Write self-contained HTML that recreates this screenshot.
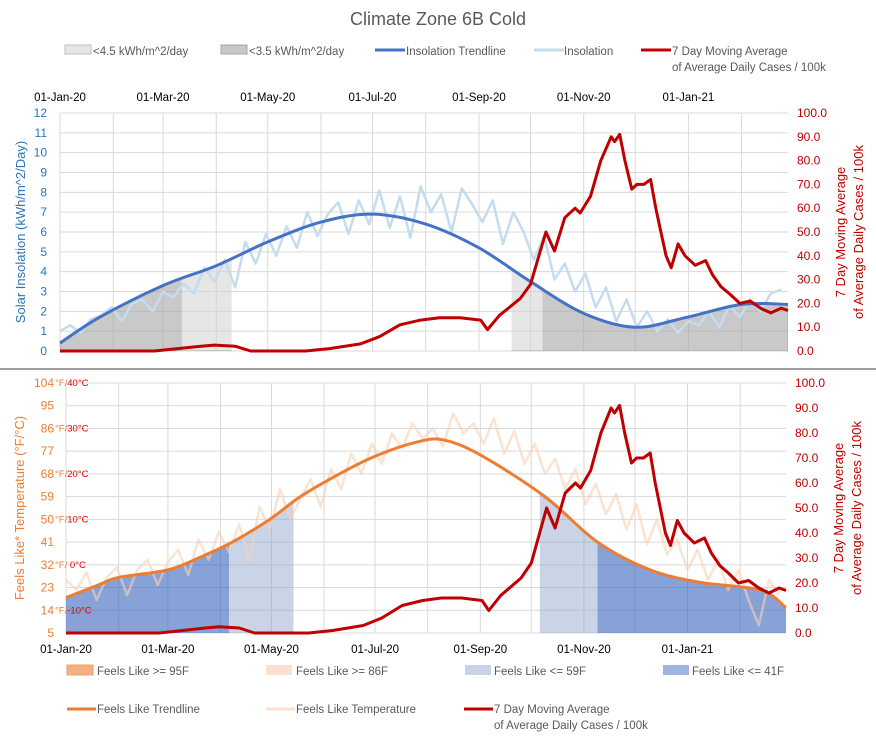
<!DOCTYPE html>
<html><head><meta charset="utf-8"><style>
body{margin:0;background:#fff;font-family:"Liberation Sans",sans-serif}
svg text{font-family:"Liberation Sans",sans-serif}
</style></head><body>
<svg id="c" width="876" height="735" viewBox="0 0 876 735" xmlns="http://www.w3.org/2000/svg">
<text x="438" y="25" text-anchor="middle" font-size="18" fill="#595959">Climate Zone 6B Cold</text>
<line x1="0" y1="369" x2="876" y2="369" stroke="#404040" stroke-width="1"/>
<g id="topPanel"></g>
<g id="botPanel"></g>
<g font-size="11.5" fill="#595959">
 <rect x="65" y="45" width="26" height="9" fill="#e6e6e6" stroke="#bfbfbf"/>
 <text x="93" y="55">&lt;4.5 kWh/m^2/day</text>
 <rect x="221" y="45" width="26" height="9" fill="#c8c8c8" stroke="#a6a6a6"/>
 <text x="249" y="55">&lt;3.5 kWh/m^2/day</text>
 <line x1="375" y1="50" x2="405" y2="50" stroke="#4472c4" stroke-width="3"/>
 <text x="406" y="55">Insolation Trendline</text>
 <line x1="534" y1="50" x2="564" y2="50" stroke="#c5dcef" stroke-width="3"/>
 <text x="564" y="55">Insolation</text>
 <line x1="641" y1="50" x2="671" y2="50" stroke="#c00000" stroke-width="3"/>
 <text x="672" y="55">7 Day Moving Average</text>
 <text x="672" y="71">of Average Daily Cases / 100k</text>
</g>
<g font-size="11.5" fill="#595959">
 <rect x="67" y="665" width="26" height="10" fill="#f4b183" stroke="#f0a070"/>
 <text x="97" y="675">Feels Like &gt;= 95F</text>
 <rect x="266" y="665" width="26" height="10" fill="#fbe0d0"/>
 <text x="296" y="675">Feels Like &gt;= 86F</text>
 <rect x="465" y="665" width="26" height="10" fill="#c9d3e6"/>
 <text x="494" y="675">Feels Like &lt;= 59F</text>
 <rect x="663" y="665" width="26" height="10" fill="#a0b6e0"/>
 <text x="692" y="675">Feels Like &lt;= 41F</text>
 <line x1="67" y1="709" x2="96" y2="709" stroke="#ed7d31" stroke-width="3"/>
 <text x="97" y="713">Feels Like Trendline</text>
 <line x1="266" y1="709" x2="295" y2="709" stroke="#fbe0d0" stroke-width="3"/>
 <text x="296" y="713">Feels Like Temperature</text>
 <line x1="464" y1="709" x2="493" y2="709" stroke="#c00000" stroke-width="3"/>
 <text x="494" y="713">7 Day Moving Average</text>
 <text x="494" y="729">of Average Daily Cases / 100k</text>
</g>
</svg>
<script>
const NS="http://www.w3.org/2000/svg";
const dateLabels=["01-Jan-20","01-Mar-20","01-May-20","01-Jul-20","01-Sep-20","01-Nov-20","01-Jan-21"];
const dateLabelDays=[0,60,121,182,244,305,366];
const monthDays=[0,31,60,91,121,152,182,213,244,274,305,335,366,397,425];
const insolTicks=[0,1,2,3,4,5,6,7,8,9,10,11,12];
const caseTicks=["0.0","10.0","20.0","30.0","40.0","50.0","60.0","70.0","80.0","90.0","100.0"];
const tempTicks=[5,14,23,32,41,50,59,68,77,86,95,104];
const tempCelsius={104:"40°C",86:"30°C",68:"20°C",50:"10°C",32:" 0°C",14:"-10°C"};
const insolStep=6;
const insolVals=[1.0,1.3,0.9,1.6,1.8,2.2,1.5,2.4,2.6,2.0,3.0,2.7,3.4,2.9,4.2,3.5,4.6,3.2,5.5,4.4,5.9,4.8,6.3,5.2,7.0,5.8,6.9,7.5,5.9,7.6,6.4,8.1,6.2,7.8,5.7,8.3,7.0,7.9,6.0,8.2,7.4,6.5,7.6,5.4,7.0,6.0,4.6,5.8,3.6,4.4,3.0,3.9,2.2,3.2,1.5,2.6,1.2,2.0,1.0,1.6,0.9,1.5,1.3,2.0,1.2,2.3,1.7,2.6,2.0,2.9,3.1];
const insolTrendDays=[0,23,60,91,121,152,182,213,244,274,305,335,365,397,424];
const insolTrendVals=[0.4,1.7,3.3,4.3,5.5,6.5,6.9,6.4,5.2,3.5,1.9,1.2,1.7,2.35,2.35];
const tempStep=6;
const tempVals=[26,22,29,18,27,31,20,30,34,24,33,38,28,42,34,45,37,48,33,55,46,62,50,58,66,55,70,62,76,68,80,72,84,78,88,82,86,79,92,84,88,80,90,76,85,72,80,68,74,62,70,56,64,52,60,46,56,40,50,36,42,30,38,26,34,22,30,18,8,26,20];
const tempTrendDays=[0,19,31,60,79,98,120,138,161,182,206,222,244,282,313,344,374,409,424];
const tempTrendVals=[19,24,27,30,35,41,50,59,68,75,80.5,81.5,75.5,59,41,30,25,22,15];
const caseDays=[0,55,82,90,102,111,143,157,175,186,198,210,221,233,245,249,256,268,274,283,288,294,300,303,309,315,318,321,323,326,329,333,336,340,344,347,350,353,356,358,360,364,370,376,380,385,390,396,402,408,414,420,424];
const caseVals=[0,0,2,2.5,2,0,0,1,3,6,11,13,14,14,13,9,15,22,28,50,42,56,60,58,65,80,85,90,88,91,80,68,70,70,72,60,50,40,35,40,45,40,36,38,32,27,24,20,21,18,16,18,17];
const topBands=[[0,71,"dark"],[71,100,"light"],[263,281,"light"],[281,424,"dark"]];
const botBands=[[0,96,"dark"],[96,134,"light"],[279,313,"light"],[313,424,"dark"]];

function el(tag,attrs,parent){const e=document.createElementNS(NS,tag);for(const k in attrs)e.setAttribute(k,attrs[k]);parent.appendChild(e);return e;}
function smooth(pts){let d="M"+pts[0][0]+","+pts[0][1];for(let i=0;i<pts.length-1;i++){const p0=pts[Math.max(0,i-1)],p1=pts[i],p2=pts[i+1],p3=pts[Math.min(pts.length-1,i+2)];d+=" C"+(p1[0]+(p2[0]-p0[0])/6)+","+(p1[1]+(p2[1]-p0[1])/6)+" "+(p2[0]-(p3[0]-p1[0])/6)+","+(p2[1]-(p3[1]-p1[1])/6)+" "+p2[0]+","+p2[1];}return d;}
function poly(pts){return "M"+pts.map(p=>p[0].toFixed(1)+","+p[1].toFixed(1)).join(" L");}

function panel(g,o){
  const X=d=>o.x0+d*(o.x1-o.x0)/424;
  const YL=v=>o.yb-(v-o.lmin)/(o.lmax-o.lmin)*(o.yb-o.yt);
  const YR=v=>o.yb-v/100*(o.yb-o.yt);
  o.lticks.forEach(t=>{const l=el("line",{x1:o.x0,x2:o.x1,y1:YL(t),y2:YL(t),stroke:"#d9d9d9"},g);});
  monthDays.forEach(d=>{if(d<=424){const l=el("line",{x1:X(d),x2:X(d),y1:o.yt,y2:o.yb,stroke:"#d9d9d9"},g);}});
  const tr=o.trendDays.map((d,i)=>[X(d),YL(o.trendVals[i])]);
  const areaD=smooth(tr)+" L"+X(424)+","+o.yb+" L"+X(0)+","+o.yb+" Z";
  o.bands.forEach((b,i)=>{
    const cp=el("clipPath",{id:o.id+"cp"+i},g);
    el("rect",{x:X(b[0]),y:o.yt,width:X(b[1])-X(b[0]),height:o.yb-o.yt},cp);
    const a=el("path",{d:areaD,fill:b[2]=="dark"?o.dark:o.light,stroke:o.bandStroke,"stroke-width":1,"clip-path":"url(#"+o.id+"cp"+i+")"},g);
    
    
  });
  const np=o.vals.map((v,i)=>[X(i*o.step),YL(v)]);
  const n=el("path",{d:poly(np),fill:"none",stroke:o.noisyColor,"stroke-width":2.5,"stroke-linejoin":"round"},g);
  
  
  const t=el("path",{d:smooth(tr),fill:"none",stroke:o.trendColor,"stroke-width":3},g);
  
  
  const cp2=caseDays.map((d,i)=>[X(d),YR(caseVals[i])]);
  const c=el("path",{d:poly(cp2),fill:"none",stroke:"#c00000","stroke-width":3,"stroke-linejoin":"round"},g);
  
  
  dateLabels.forEach((s,i)=>{const tx=el("text",{x:X(dateLabelDays[i]),y:o.dateY,"text-anchor":"middle","font-size":11.5,fill:"#000"},g);tx.textContent=s;});
  caseTicks.forEach((s,i)=>{const tx=el("text",{x:o.x1+9,y:YR(i*10)+4,"font-size":12,fill:"#c00000"},g);tx.textContent=s;});
  const rt=el("text",{transform:"translate("+(o.x1+57)+","+((o.yt+o.yb)/2)+") rotate(-90)","text-anchor":"middle","font-size":13,fill:"#c00000"},g);
  
  const s1=el("tspan",{x:0,dy:0},rt);s1.textContent="7 Day Moving Average";
  const s2=el("tspan",{x:0,dy:18},rt);s2.textContent="of Average Daily Cases / 100k";
}

const topG=document.getElementById("topPanel");
const botG=document.getElementById("botPanel");
panel(topG,{id:"t",x0:60,x1:788,yt:113,yb:351,lmin:0,lmax:12,lticks:insolTicks,bands:topBands,
  trendDays:insolTrendDays,trendVals:insolTrendVals,vals:insolVals,step:insolStep,dark:"rgba(165,165,165,0.6)",light:"rgba(210,210,210,0.55)",bandStroke:"#a6a6a6",
  darkName:"band-lt35",lightName:"band-lt45",noisyColor:"#c5dcef",noisyName:"insolation-line",trendColor:"#4472c4",trendName:"insolation-trendline",dateY:101});
panel(botG,{id:"b",x0:66,x1:786,yt:383,yb:633,lmin:5,lmax:104,lticks:tempTicks,bands:botBands,
  trendDays:tempTrendDays,trendVals:tempTrendVals,vals:tempVals,step:tempStep,dark:"rgba(47,95,185,0.58)",light:"rgba(143,165,205,0.48)",bandStroke:"none",
  darkName:"band-le41",lightName:"band-le59",noisyColor:"rgba(248,208,180,0.6)",noisyName:"temperature-line",trendColor:"#ed7d31",trendName:"temperature-trendline",dateY:653});

insolTicks.forEach(v=>{const tx=el("text",{x:47,y:351-v*238/12+4,"text-anchor":"end","font-size":12,fill:"#2e75b6"},topG);tx.textContent=String(v);});
const lt=el("text",{transform:"translate(25,232) rotate(-90)","text-anchor":"middle","font-size":13,fill:"#2e75b6"},topG);lt.textContent="Solar Insolation (kWh/m^2/Day)";


tempTicks.forEach(v=>{const y=633-(v-5)*250/99+4;const tx=el("text",{x:54,y:y,"text-anchor":"end","font-size":12,fill:"#ed7d31"},botG);tx.textContent=String(v);
 if(tempCelsius[v]){const s=el("text",{x:55,y:y-1,"font-size":9.5,fill:"#ed7d31"},botG);const a=el("tspan",{},s);a.textContent="°F/";const b=el("tspan",{fill:"#e00000"},s);b.textContent=tempCelsius[v];}});
const bt=el("text",{transform:"translate(24,508) rotate(-90)","text-anchor":"middle","font-size":13,fill:"#ed7d31"},botG);bt.textContent="Feels Like* Temperature (°F/°C)";


</script>
</body></html>
